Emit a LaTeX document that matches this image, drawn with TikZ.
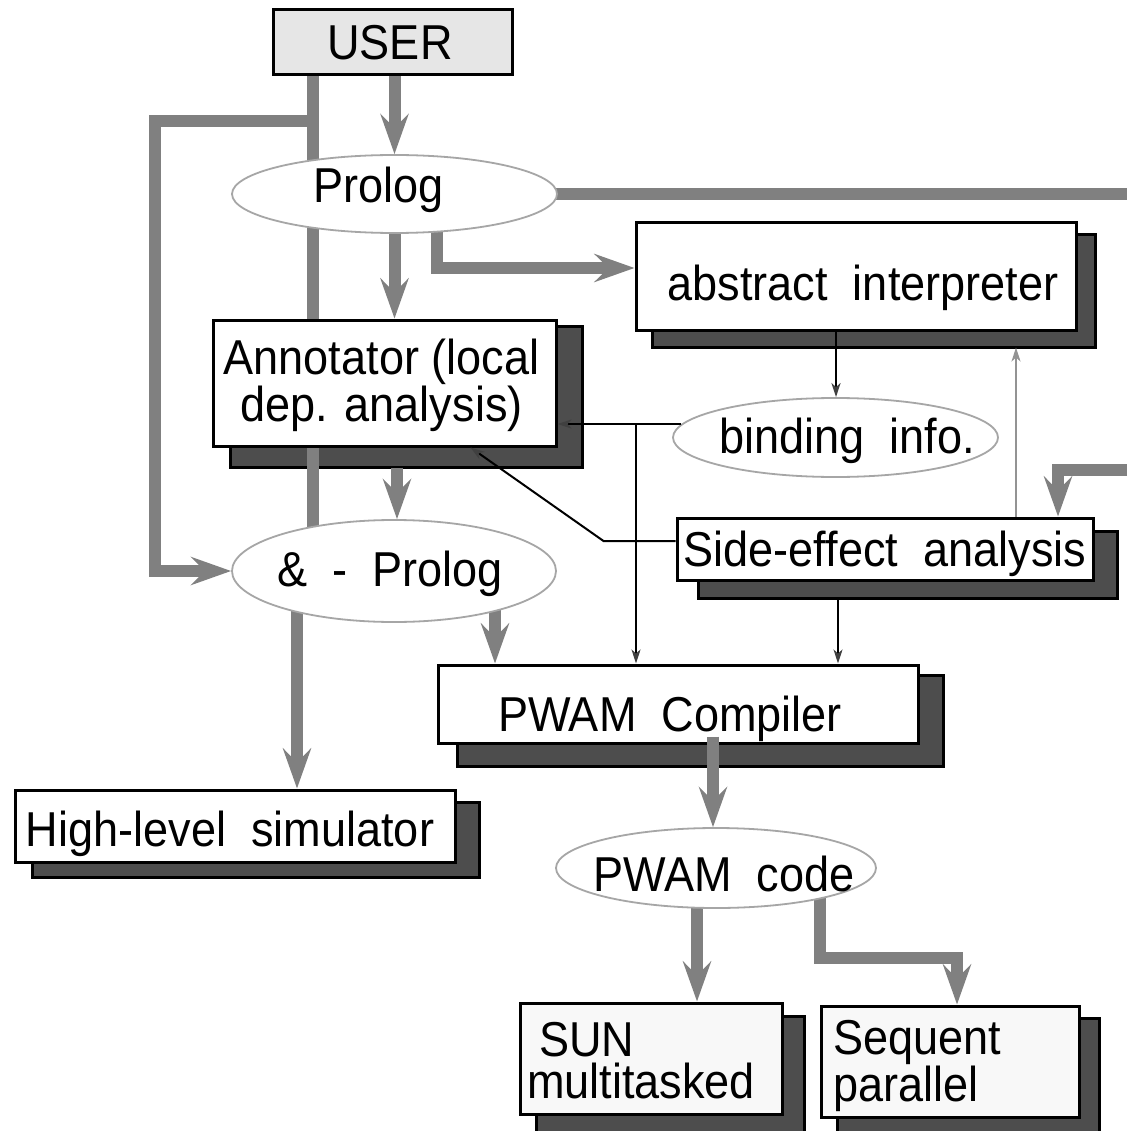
\documentclass[tikz,border=0pt]{standalone}
\usepackage{fontspec}
\setmainfont{Liberation Sans}[FakeStretch=0.92]
\usetikzlibrary{arrows.meta,shapes.geometric,calc}
\definecolor{flow}{HTML}{808080}
\definecolor{shade}{HTML}{4D4D4D}
\definecolor{rim}{HTML}{A6A6A6}
\definecolor{userfill}{HTML}{E6E6E6}
\definecolor{paper}{HTML}{F8F8F8}
\pgfdeclarelayer{canvaslayer}
\pgfdeclarelayer{shadowlayer}
\pgfdeclarelayer{flowlayer}
\pgfsetlayers{canvaslayer,shadowlayer,flowlayer,main}
\tikzset{
  every node/.style={font=\fontsize{49}{40}\selectfont, inner sep=0pt},
  box/.style={rectangle, draw=black, line width=3pt, fill=white},
  shadowbox/.style={fill=shade, draw=black, line width=2.5pt},
  blob/.style={ellipse, draw=rim, line width=1.8pt, fill=white},
  flowline/.style={draw=flow, line width=12pt, line join=miter},
  flowarrow/.style={flowline, -{Stealth[length=40pt,width=28pt,inset=14pt]}},
  wire/.style={draw=black, line width=2pt},
  wirearrow/.style={wire, -{Stealth[length=14pt,width=9pt,inset=4pt,color=black!75]}},
  faintarrow/.style={draw=flow!85, line width=2pt, -{Stealth[length=14pt,width=9pt,inset=4pt]}},
}
% drop shadow behind a box: left, top, right, bottom offsets
\newcommand{\shadowof}[5]{%
  \path[shadowbox] ([shift={(#2,#3)}]#1.north west) rectangle ([shift={(#4,#5)}]#1.south east);}
\begin{document}
\begin{tikzpicture}[x=1pt,y=-1pt]
\begin{pgfonlayer}{canvaslayer}
  \fill[white] (0,0) rectangle (1127,1131);
\end{pgfonlayer}
\useasboundingbox (0,0) rectangle (1127,1131);

% boxes and ellipses
\node[box, fill=userfill, minimum width=239pt, minimum height=65pt,
      label={[xshift=-2.5pt]center:USER}] (user) at (392.5,42.5) {};
\node[blob, minimum width=325pt, minimum height=78pt,
      label={[xshift=-16pt,yshift=4.5pt]center:Prolog}] (prolog) at (394.5,194) {};
\node[box, minimum width=440pt, minimum height=107pt,
      label={[xshift=7pt,yshift=-11pt]center:abstract~~interpreter}] (absint) at (856,276.5) {};
\node[box, minimum width=343pt, minimum height=126pt,
      label={[align=center,xshift=-3pt,yshift=-2.5pt]center:Annotator (local\\dep. analysis)}] (annot) at (384.5,383) {};
\node[blob, minimum width=325pt, minimum height=79pt,
      label={[xshift=11.5pt,yshift=-3pt]center:binding~~info.}] (bind) at (835.5,437.5) {};
\node[box, minimum width=416pt, minimum height=62pt,
      label={[yshift=-5pt]center:Side-effect~~analysis}] (side) at (885,549) {};
\node[blob, minimum width=324pt, minimum height=102pt,
      label={[xshift=-4pt,yshift=-3pt]center:\&~~-~~Prolog}] (andp) at (394,571) {};
\node[box, minimum width=480pt, minimum height=78pt,
      label={[xshift=-8pt,yshift=-15pt]center:PWAM~~Compiler}] (pwam) at (678,704) {};
\node[box, minimum width=440pt, minimum height=72pt,
      label={[xshift=-5pt,yshift=-8pt]center:High-level~~simulator}] (sim) at (235,826) {};
\node[blob, minimum width=320pt, minimum height=80pt,
      label={[xshift=8pt,yshift=-6pt]center:PWAM~~code}] (code) at (716,868) {};
\node[box, fill=paper, minimum width=262pt, minimum height=111pt,
      label={[font=\fontsize{49}{42}\selectfont, align=left, text width=240pt,
              xshift=-4pt,yshift=-2pt]center:\hspace*{12pt}SUN\\multitasked}] (sun) at (651,1058.5) {};
\node[box, fill=paper, minimum width=258pt, minimum height=111pt,
      label={[font=\fontsize{49}{42}\selectfont, align=left, text width=231pt,
              xshift=-1.5pt,yshift=-4.5pt]center:Sequent\\parallel}] (seq) at (950,1061.5) {};

% free ends at the right edge
\coordinate (edgeout) at (1127,194);
\coordinate (edgein) at (1127,470);
\coordinate (fork) at ([xshift=-79.5pt,yshift=-45pt]user.south);
\coordinate (absfoot) at ($(absint.south)+(0,16)$);
\coordinate (sidefoot) at ($(side.south)+(0,17)$);
\coordinate (annotfoot) at ($(annot.south)+(0,20)$);

% shadows
\begin{pgfonlayer}{shadowlayer}
  \shadowof{absint}{18}{13}{18}{16}
  \shadowof{annot}{19}{8}{25}{20}
  \shadowof{side}{23}{15}{23}{17}
  \shadowof{pwam}{21}{12}{24}{22}
  \shadowof{sim}{19}{14}{23}{14}
  \shadowof{sun}{18}{15}{21}{30}
  \shadowof{seq}{18}{14}{19}{30}
\end{pgfonlayer}

% main data flow
\begin{pgfonlayer}{flowlayer}
  \draw[flowline] ([xshift=-79.5pt]user.south) -- ([xshift=-79.5pt]user.south |- andp.center);
  \draw[flowarrow] (fork) -- ([xshift=-158pt]fork) |- (andp.west);
  \draw[flowarrow] ([xshift=2pt]user.south) -- ([xshift=2pt]user.south |- prolog.north);
  \draw[flowarrow] (prolog.south) -- (prolog.south |- annot.north);
  \draw[flowarrow] ([xshift=42.5pt]prolog.center) |- ([yshift=8.5pt]absint.west);
  \draw[flowline] (prolog.center) -- (edgeout);
  \draw[flowarrow] (edgein) -| ([xshift=173pt]side.north);
  \draw[flowarrow] ([xshift=12.5pt]annotfoot) -- ([xshift=12.5pt]annotfoot |- andp.north);
  \draw[flowarrow] ([xshift=101pt]andp.center) -- ([xshift=101pt]andp.center |- pwam.north);
  \draw[flowarrow] ([xshift=-97pt]andp.center) -- ([xshift=-97pt]andp.center |- sim.north);
  \draw[flowarrow] ([xshift=-19pt]code.center) -- ([xshift=-19pt]code.center |- sun.north);
  \draw[flowarrow] ([xshift=104pt]code.center) |- ([xshift=7pt,yshift=47pt]seq.north)
                   -- ([xshift=7pt]seq.north);
\end{pgfonlayer}
\draw[flowarrow] ([xshift=35pt,yshift=8pt]pwam.south) -- ([xshift=35pt]pwam.south |- code.north);

% analysis information
\draw[wirearrow] ([xshift=-20pt]absint.south) -- ([xshift=-20pt]absint.south |- bind.north);
\draw[wirearrow] (bind.175) -- (bind.175 -| annot.east);
\draw[wirearrow] ([xshift=-42pt]pwam.north |- bind.175) -- ([xshift=-42pt]pwam.north);
\draw[wirearrow] ([yshift=8pt]side.west) -- ++(-72,0) -- ([xshift=86pt]annot.south);
\draw[wirearrow] ([xshift=-47pt]sidefoot) -- ([xshift=-47pt]sidefoot |- pwam.north);
\draw[faintarrow] ([xshift=131pt]side.north) -- ([xshift=131pt]side.north |- absfoot);
\end{tikzpicture}
\end{document}
